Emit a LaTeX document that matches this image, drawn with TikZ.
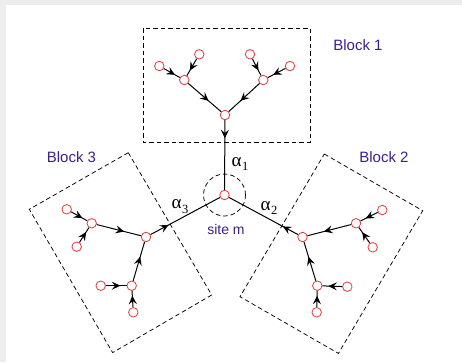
\documentclass[tikz,border=0pt]{standalone}
\usepackage{fontspec}
\setsansfont{Liberation Sans}
\newfontfamily\grkfont{Liberation Serif}
\usetikzlibrary{arrows.meta,decorations.markings}
\definecolor{nodered}{RGB}{225,60,60}
\definecolor{lblpurple}{RGB}{62,32,140}
\definecolor{framegray}{RGB}{237,237,237}
\newcommand{\alphasub}[1]{{\grkfont\fontsize{19}{19}\selectfont α}\kern0.5pt\raisebox{-4.5pt}{\grkfont\fontsize{12.5}{12.5}\selectfont #1}}
\begin{document}
\begin{tikzpicture}[x=1pt,y=-1pt,
  vtx/.style={circle,draw=nodered,fill=white,line width=0.8pt,minimum size=9.5pt,inner sep=0pt},
  flow/.style={line width=1pt,postaction={decorate},
    decoration={markings,mark=at position #1 with {\arrow{Stealth[length=8.5pt,width=8pt,inset=3.2pt]}}}},
  flow/.default=0.7,
  box/.style={line width=0.75pt,dash pattern=on 4.5pt off 3pt},
  lbl/.style={font=\sffamily\fontsize{15}{15}\selectfont,text=lblpurple}]
% frame
\fill[framegray] (0,0) rectangle (462,362);
\fill[white] (6,5) rectangle (462,362);
\useasboundingbox (0,0) rectangle (462,362);

% blocks
\draw[box] (143,28) rectangle (310,142);
\draw[box] (324.3,154) -- (422.7,210.7) -- (338.4,353.4) -- (240,296.7) -- cycle;
\draw[box] (128.3,152.7) -- (29.3,209.3) -- (112.6,352.6) -- (211.7,295) -- cycle;

% site
\node[vtx] (s) at (224.5,195) {};
\draw[box] (s.center) circle[radius=21pt];

% block 1 nodes
\node[vtx] (r1) at (225,115) {};
\node[vtx] (m1a) at (184.3,80) {};
\node[vtx] (m1b) at (263.3,80) {};
\node[vtx] (l1a) at (159.3,66) {};
\node[vtx] (l1b) at (199.3,54.3) {};
\node[vtx] (l1c) at (250,54.3) {};
\node[vtx] (l1d) at (290,66) {};

% block 2 nodes
\node[vtx] (r2) at (302.5,237) {};
\node[vtx] (m2a) at (356,223.3) {};
\node[vtx] (l2a) at (382.3,210) {};
\node[vtx] (l2b) at (372.7,247.3) {};
\node[vtx] (m2b) at (317.3,285.7) {};
\node[vtx] (l2c) at (347.3,286.7) {};
\node[vtx] (l2d) at (316.7,312.3) {};

% block 3 nodes
\node[vtx] (r3) at (146,237) {};
\node[vtx] (m3a) at (91.7,223.3) {};
\node[vtx] (l3a) at (66.7,209.3) {};
\node[vtx] (l3b) at (76.7,246.7) {};
\node[vtx] (m3b) at (131.7,285.7) {};
\node[vtx] (l3c) at (100.7,285.7) {};
\node[vtx] (l3d) at (133.3,312.3) {};

% edges block 1
\draw[flow] (l1a) -- (m1a);
\draw[flow] (l1b) -- (m1a);
\draw[flow] (l1c) -- (m1b);
\draw[flow] (l1d) -- (m1b);
\draw[flow=0.62] (m1a) -- (r1);
\draw[flow=0.62] (m1b) -- (r1);
\draw[flow=0.26] (r1) -- (s);

% edges block 2
\draw[flow] (l2a) -- (m2a);
\draw[flow] (l2b) -- (m2a);
\draw[flow] (l2c) -- (m2b);
\draw[flow] (l2d) -- (m2b);
\draw[flow=0.62] (m2a) -- (r2);
\draw[flow=0.62] (m2b) -- (r2);
\draw[flow=0.22] (r2) -- (s);

% edges block 3
\draw[flow] (l3a) -- (m3a);
\draw[flow] (l3b) -- (m3a);
\draw[flow] (l3c) -- (m3b);
\draw[flow] (l3d) -- (m3b);
\draw[flow=0.62] (m3a) -- (r3);
\draw[flow=0.62] (m3b) -- (r3);
\draw[flow=0.26] (r3) -- (s);

% labels
\node[lbl] (b1) at (358,45) {Block 1};
\node[lbl] (b2) at (384,156.7) {Block 2};
\node[lbl] (b3) at (71.5,156.7) {Block 3};
\node[lbl,font=\sffamily\fontsize{14}{14}\selectfont] (sm) at (226,229.3) {site m};
\node (a1) at (240,164) {\alphasub{1}};
\node (a2) at (269,208) {\alphasub{2}};
\node (a3) at (180,206.5) {\alphasub{3}};
\end{tikzpicture}
\end{document}
